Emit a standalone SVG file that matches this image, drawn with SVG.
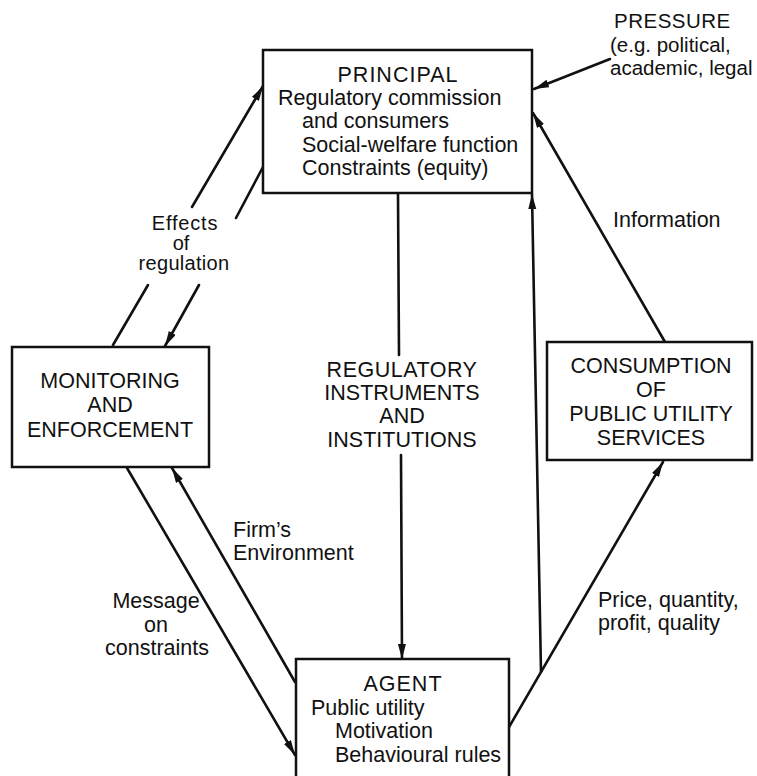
<svg xmlns="http://www.w3.org/2000/svg" width="757" height="776" viewBox="0 0 757 776">
<style>
text{font-family:"Liberation Sans",Arial,sans-serif;font-size:21.5px;fill:#111}
.c{text-anchor:middle}
.s{font-size:20px}
.p{font-size:20.5px}
.box{fill:#fff;stroke:#111;stroke-width:2.5}
.ln{fill:none;stroke:#111;stroke-width:2.6;stroke-linecap:round}
.arr{marker-end:url(#ah)}
</style>
<defs>
<marker id="ah" markerUnits="userSpaceOnUse" markerWidth="16" markerHeight="10" refX="15" refY="4" orient="auto">
<path d="M0,0 L15,4 L0,8 z" fill="#111"/>
</marker>
</defs>
<rect width="757" height="776" fill="#fff"/>
<g id="connectors">
<line class="ln" x1="113" y1="345" x2="148" y2="285"/>
<line class="ln arr" x1="192" y1="207" x2="263" y2="86"/>
<line class="ln" x1="263" y1="167" x2="236" y2="218"/>
<line class="ln arr" x1="199" y1="285" x2="165" y2="346"/>
<line class="ln arr" x1="610" y1="59" x2="534" y2="89"/>
<line class="ln arr" x1="665" y1="342" x2="533" y2="113"/>
<line class="ln" x1="398" y1="194" x2="399" y2="355"/>
<line class="ln arr" x1="401" y1="455" x2="402" y2="659"/>
<line class="ln arr" x1="541" y1="672" x2="532" y2="194"/>
<line class="ln arr" x1="509" y1="727" x2="663" y2="462"/>
<line class="ln arr" x1="127" y1="468" x2="295" y2="755"/>
<line class="ln arr" x1="295" y1="682" x2="172" y2="468"/>
</g>
<g id="principal">
<rect class="box" x="263" y="50" width="269" height="143"/>
<text class="c" x="398" y="82" letter-spacing="1">PRINCIPAL</text>
<text x="278" y="105">Regulatory commission</text>
<text x="302" y="128">and consumers</text>
<text x="302" y="152">Social-welfare function</text>
<text x="302" y="175">Constraints (equity)</text>
</g>
<g id="pressure">
<text class="p" x="614" y="28" letter-spacing="0.5">PRESSURE</text>
<text class="p" x="610" y="52">(e.g. political,</text>
<text class="p" x="610" y="75">academic, legal</text>
</g>
<g id="monitoring">
<rect class="box" x="12" y="347" width="197" height="120"/>
<text class="c" x="110" y="388">MONITORING</text>
<text class="c" x="110" y="412">AND</text>
<text class="c" x="110" y="437">ENFORCEMENT</text>
</g>
<g id="consumption">
<rect class="box" x="547" y="342" width="205" height="118"/>
<text class="c" x="651" y="373">CONSUMPTION</text>
<text class="c" x="651" y="397">OF</text>
<text class="c" x="651" y="421">PUBLIC UTILITY</text>
<text class="c" x="651" y="445">SERVICES</text>
</g>
<g id="regulatory">
<text class="c" x="402" y="377" letter-spacing="0.5">REGULATORY</text>
<text class="c" x="402" y="400">INSTRUMENTS</text>
<text class="c" x="402" y="423">AND</text>
<text class="c" x="402" y="447">INSTITUTIONS</text>
</g>
<g id="agent">
<rect class="box" x="296" y="659" width="213" height="130"/>
<text class="c" x="403" y="691" letter-spacing="1">AGENT</text>
<text x="311" y="715">Public utility</text>
<text x="335" y="738">Motivation</text>
<text x="335" y="762">Behavioural rules</text>
</g>
<g id="labels">
<text class="c s" x="185" y="230" letter-spacing="0.8">Effects</text>
<text class="c s" x="181" y="250">of</text>
<text class="c s" x="184" y="270" letter-spacing="0.3">regulation</text>
<text x="613" y="227">Information</text>
<text x="233" y="537">Firm’s</text>
<text x="233" y="560">Environment</text>
<text class="c" x="156" y="608">Message</text>
<text class="c" x="156" y="632">on</text>
<text class="c" x="157" y="655">constraints</text>
<text x="598" y="607">Price, quantity,</text>
<text x="598" y="630">profit, quality</text>
</g>
</svg>
